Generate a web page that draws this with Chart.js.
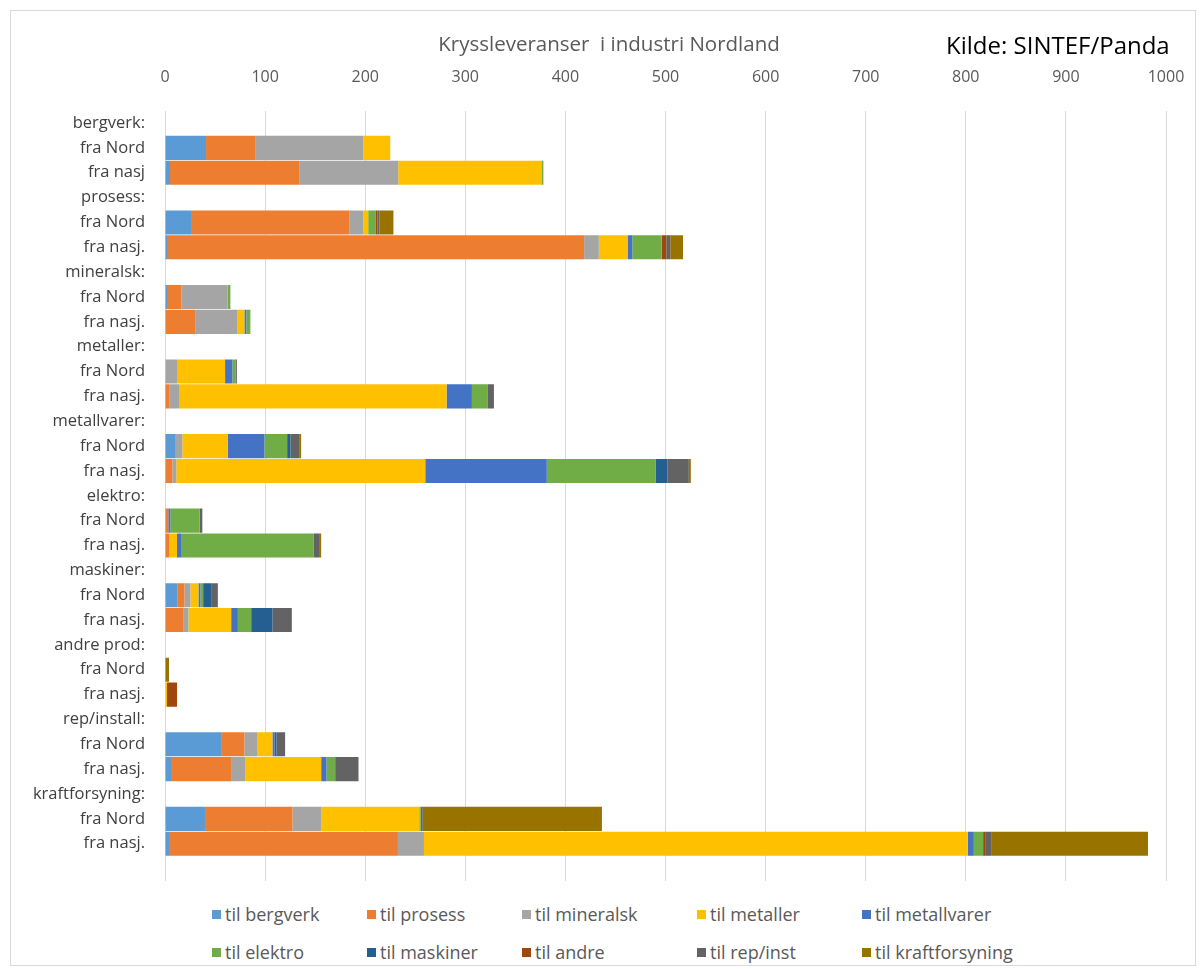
<!DOCTYPE html>
<html>
<head>
<meta charset="utf-8">
<script src="https://cdn.jsdelivr.net/npm/chart.js@4.4.1/dist/chart.umd.min.js"></script>
<style>
  body { margin: 0; background: #fff; font-family: "Open Sans", sans-serif; }
  #frame { position: absolute; left: 10px; top: 10px; width: 1186px; height: 956px;
           border: 1px solid #d9d9d9; box-sizing: border-box; }
  #wrap { position: absolute; left: 0; top: 0; width: 1183px; height: 875px; }
  #title { position: absolute; left: 0; width: 1218px; top: 29px; text-align: center;
           font-size: 20.5px; color: #595959; }
  #kilde { position: absolute; left: 946px; top: 28px; font-size: 24px; color: #000; }
  #legend { position: absolute; left: 0; top: 0; }
  .item { position: absolute; font-size: 18px; color: #595959; white-space: nowrap; }
  .item span { display: inline-block; width: 9px; height: 9px; margin-right: 4px; vertical-align: 2px; }
</style>
</head>
<body>
<div id="frame">
  <div id="wrap"><canvas id="chart"></canvas></div>
</div>
<div id="title">Kryssleveranser&nbsp; i industri Nordland</div>
<div id="kilde">Kilde: SINTEF/Panda</div>
<div id="legend"></div>
<script>
// rows: header, fra Nord, fra nasj for each supplying industry; last row is empty
const rowLabels = ["bergverk:", "fra Nord", "fra nasj", "prosess:", "fra Nord", "fra nasj.",
    "mineralsk:", "fra Nord", "fra nasj.", "metaller:", "fra Nord", "fra nasj.",
    "metallvarer:", "fra Nord", "fra nasj.", "elektro:", "fra Nord", "fra nasj.",
    "maskiner:", "fra Nord", "fra nasj.", "andre prod:", "fra Nord", "fra nasj.",
    "rep/install:", "fra Nord", "fra nasj.", "kraftforsyning:", "fra Nord", "fra nasj.", ""];

const seriesNames = ["til bergverk", "til prosess", "til mineralsk", "til metaller", "til metallvarer",
    "til elektro", "til maskiner", "til andre", "til rep/inst", "til kraftforsyning"];
const seriesColors = ["#5B9BD5", "#ED7D31", "#A5A5A5", "#FFC000", "#4472C4",
    "#70AD47", "#255E91", "#9E480E", "#636363", "#997300"];

const _ = null;
const tilBergverk   = [_, 41, 5,   _, 26, 2,     _, 2, 0,    _, 0, 0,     _, 10, 0,    _, 0, 0,     _, 12.7, 0,  _, 0, 0,   _, 56, 6,     _, 40, 4,     _];
const tilProsess    = [_, 49, 129, _, 158, 416.7, _, 14.3, 30.7, _, 0, 4.7, _, 0, 7.3, _, 3.3, 4, _, 6.7, 18.7, _, 0, 0, _, 23.3, 60.7, _, 87.3, 228.7, _];
const tilMineralsk  = [_, 108, 99, _, 14, 14.7,  _, 46.3, 41.3, _, 12, 9.3, _, 7.3, 4, _, 0, 0,    _, 6, 4.7,   _, 0, 0,   _, 12.7, 13.3, _, 28.7, 26,   _];
const tilMetaller   = [_, 27, 143, _, 5, 28.7,   _, 0, 7.3,  _, 48, 267.3, _, 45.3, 248.7, _, 0, 8, _, 8, 42.7, _, 0, 2, _, 15.3, 76,   _, 98, 543.3,  _];
const tilMetallvarer= [_, 0, 0,    _, 0, 4.7,    _, 0, 2,    _, 7.3, 25.3, _, 36.7, 121.4, _, 2, 4, _, 2, 6.7,  _, 0, 0,   _, 2, 5.3,    _, 0, 6,      _];
const tilElektro    = [_, 0, 2,    _, 7.7, 29.3, _, 2.7, 4,  _, 3, 16,    _, 22.7, 108.6, _, 29.3, 132.7, _, 2.7, 13.3, _, 0, 0, _, 0, 8.7, _, 1.5, 9.3,  _];
const tilMaskiner   = [_, 0, 0,    _, 0, 0,      _, 0, 0,    _, 0, 0,     _, 3.3, 12,  _, 0, 0,     _, 8, 21.3,  _, 0, 0,   _, 2, 0,      _, 0, 0,      _];
const tilAndre      = [_, 0, 0,    _, 1.5, 4.7,  _, 0, 0,    _, 0, 0,     _, 0, 0,     _, 0, 0,     _, 0, 0,     _, 0, 10,  _, 0, 0,      _, 0, 2.7,    _];
const tilRepInst    = [_, 0, 0,    _, 2, 4,      _, 0, 0,    _, 1.5, 6,   _, 8.7, 21.3, _, 2.7, 6,  _, 6.7, 19.3, _, 0, 0,   _, 8.7, 23.3, _, 2, 5.3,    _];
const tilKraft      = [_, 0, 0,    _, 14, 12.7,  _, 0, 0,    _, 0, 0,     _, 2, 2,     _, 0, 1.3,   _, 0, 0,     _, 4, 0,   _, 0, 0,      _, 179, 156.7, _];

const xTicks = [0, 100, 200, 300, 400, 500, 600, 700, 800, 900, 1000];

const seriesValues = [tilBergverk, tilProsess, tilMineralsk, tilMetaller, tilMetallvarer,
    tilElektro, tilMaskiner, tilAndre, tilRepInst, tilKraft];

const datasets = seriesNames.map((name, i) => ({
    label: name,
    data: seriesValues[i],
    backgroundColor: seriesColors[i],
    borderWidth: 0,
    barPercentage: 0.97,
    categoryPercentage: 1
}));

new Chart(document.getElementById("chart").getContext("2d"), {
    type: 'bar',
    data: { labels: rowLabels, datasets },
    options: {
        indexAxis: 'y',
        responsive: true,
        maintainAspectRatio: false,
        animation: false,
        layout: { padding: { left: 0, right: 28, top: 0, bottom: 5 } },
        plugins: { legend: { display: false }, tooltip: { enabled: false } },
        scales: {
            x: {
                position: 'top',
                stacked: true,
                min: 0,
                max: 1000,
                afterBuildTicks: (scale) => { scale.ticks = xTicks.map(v => ({ value: v })); },
                afterFit: (scale) => {
                    scale.height = 99.6;
                    scale.paddingLeft = 0;
                    scale.paddingRight = 0;
                },
                grid: { color: '#d9d9d9', drawTicks: false },
                border: { display: false },
                ticks: { color: '#595959', font: { family: 'Open Sans', size: 16 }, padding: 24,
                         callback: (v) => String(v) }
            },
            y: {
                stacked: true,
                afterFit: (scale) => {
                    scale.width = 154;
                    scale.paddingTop = 0;
                    scale.paddingBottom = 0;
                },
                grid: { display: false, drawTicks: false },
                border: { display: false },
                ticks: { color: '#404040', font: { family: 'Open Sans', size: 16.5 }, padding: 20, autoSkip: false }
            }
        }
    }
});

// legend laid out in two rows of five fixed columns
const legendCols = [212, 367, 522, 697, 862];
const legendRows = [915, 953];
const legend = document.getElementById("legend");
seriesNames.forEach((name, i) => {
    const el = document.createElement("div");
    el.className = "item";
    el.style.left = legendCols[i % 5] + "px";
    el.style.top = (legendRows[Math.floor(i / 5)] - 13) + "px";
    el.innerHTML = `<span style="background:${seriesColors[i]}"></span>${name}`;
    legend.appendChild(el);
});
</script>
</body>
</html>
